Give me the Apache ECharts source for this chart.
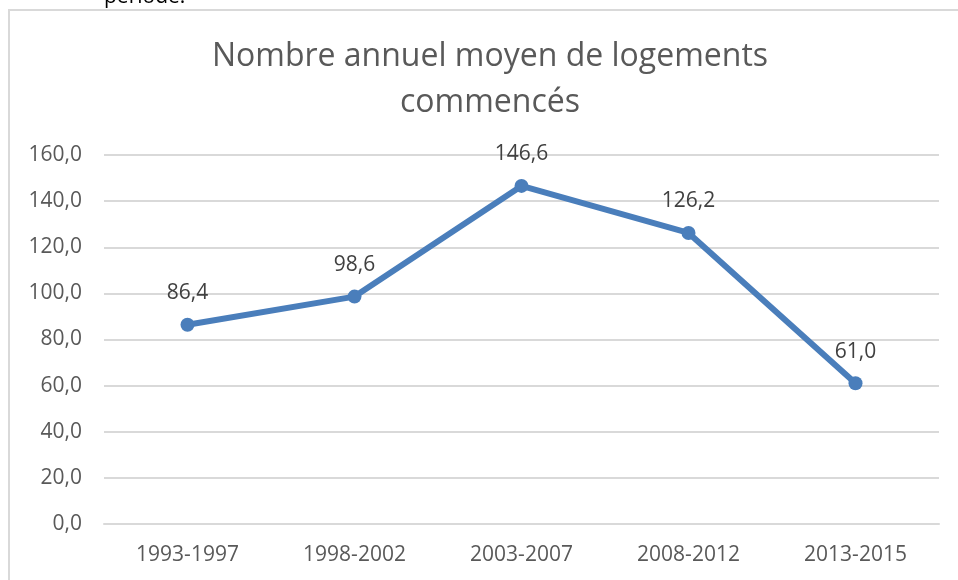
<!DOCTYPE html>
<html><head><meta charset="utf-8">
<script src="https://cdn.jsdelivr.net/npm/echarts@6/dist/echarts.min.js"></script>
<style>html,body{margin:0;padding:0;background:#fff}#c{width:958px;height:580px}</style>
</head><body><div id="c"></div>
<script>
const categories = ['1993-1997','1998-2002','2003-2007','2008-2012','2013-2015'];
const values = [86.4, 98.6, 146.6, 126.2, 61.0];
const titleLines = ['Nombre annuel moyen de logements', 'commencés'];
const fmt = v => v.toFixed(1).replace('.', ',');
const chart = echarts.init(document.getElementById('c'));
chart.setOption({
  animation: false,
  backgroundColor: '#fff',
  graphic: [
    {type: 'rect', shape: {x: 9, y: 10, width: 1000, height: 700}, style: {fill: 'none', stroke: '#d9d9d9', lineWidth: 2}},
    {type: 'text', left: 104, top: -13, style: {text: 'période.', font: '21px "Open Sans"', fill: '#000'}},
    {type: 'text', x: 490, y: 34, style: {text: titleLines.join('\n'), font: '32px "Open Sans"', fill: '#595959', align: 'center', verticalAlign: 'top', lineHeight: 46}}
  ],
  grid: {left: 104, right: 19, top: 155, bottom: 56},
  xAxis: {
    type: 'category', data: categories, boundaryGap: true,
    axisLine: {show: true, lineStyle: {color: '#d9d9d9', width: 2}},
    axisTick: {show: false},
    axisLabel: {color: '#595959', fontSize: 21, fontFamily: 'Open Sans', margin: 21}
  },
  yAxis: {
    type: 'value', min: 0, max: 160, interval: 20,
    axisLine: {show: false}, axisTick: {show: false},
    splitLine: {lineStyle: {color: '#d9d9d9', width: 2}},
    axisLabel: {color: '#595959', fontSize: 21, fontFamily: 'Open Sans', margin: 22, formatter: fmt}
  },
  series: [{
    type: 'line', data: values,
    lineStyle: {color: '#4a7ebb', width: 6},
    itemStyle: {color: '#4a7ebb'},
    symbol: 'circle', symbolSize: 14,
    label: {show: true, position: 'top', distance: 14, color: '#404040', fontSize: 21, fontFamily: 'Open Sans', formatter: p => fmt(p.value)}
  }]
});
</script></body></html>
